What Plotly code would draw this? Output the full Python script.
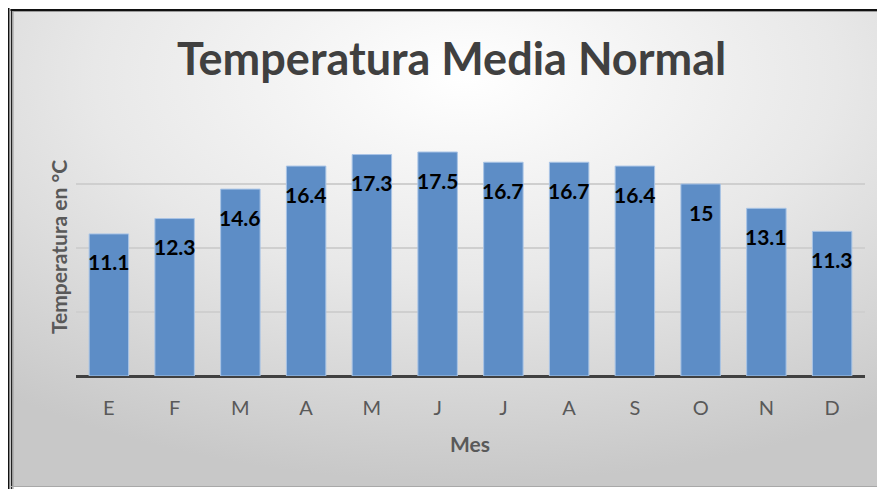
import base64
import plotly.graph_objects as go

months = ["E", "F", "M", "A", "M", "J", "J", "A", "S", "O", "N", "D"]
temps = [11.1, 12.3, 14.6, 16.4, 17.3, 17.5, 16.7, 16.7, 16.4, 15, 13.1, 11.3]
title_text = "Temperatura Media Normal"
x_title = "Mes"
y_title = "Temperatura en °C"

OFF = 8  # page body margin
W, H = 885 - OFF, 489 - OFF
L, R, T, B = 76 - OFF, 865 - OFF, 120 - OFF, 376 - OFF

def px(x):
    return (x - OFF - L) / (R - L)

def py(y):
    return (B - (y - OFF)) / (B - T)

svg = f'''<svg xmlns="http://www.w3.org/2000/svg" width="{W}" height="{H}" viewBox="0 0 {W} {H}">
<defs><radialGradient id="g" cx="0.52" cy="0.14" r="0.85" gradientUnits="objectBoundingBox">
<stop offset="0" stop-color="#ffffff"/><stop offset="0.5" stop-color="#e8e8e8"/><stop offset="1" stop-color="#c8c8c8"/></radialGradient></defs>
<rect x="0" y="0" width="{W}" height="{H}" fill="#ffffff"/>
<rect x="3" y="2" width="{W-3}" height="{H-4}" fill="url(#g)"/>
<line x1="0.75" y1="0" x2="0.75" y2="{H}" stroke="#111" stroke-width="1.5"/>
<line x1="3.5" y1="1" x2="3.5" y2="{H}" stroke="#222" stroke-width="1.5"/>
<line x1="5" y1="4" x2="5" y2="{H}" stroke="#9a9a9a" stroke-width="1"/>
<line x1="2.5" y1="2" x2="{W}" y2="2" stroke="#111" stroke-width="2"/>
<line x1="4" y1="3.5" x2="{W}" y2="3.5" stroke="#9a9a9a" stroke-width="1"/>
<line x1="3" y1="{H-2.5}" x2="{W}" y2="{H-2.5}" stroke="#a8a8a8" stroke-width="1"/>
</svg>'''
src = "data:image/svg+xml;base64," + base64.b64encode(svg.encode()).decode()

xs = list(range(len(months)))

fig = go.Figure()
fig.add_trace(go.Bar(
    x=xs, y=temps,
    marker=dict(color="#5d8dc6", line=dict(color="#a9c4e6", width=1)),
    width=0.6,
    hoverinfo="skip",
))

annotations = []
for xi, v in zip(xs, temps):
    annotations.append(dict(
        x=xi, y=v, xref="x", yref="y", text=f"<b>{v:g}</b>", showarrow=False,
        yshift=-28, font=dict(family="Lato", size=21, color="#000000"),
    ))
annotations.append(dict(
    x=px(451), y=py(58), xref="paper", yref="paper",
    text=f"<b>{title_text}</b>", showarrow=False,
    font=dict(family="Lato", size=45, color="#404040"),
    xanchor="center", yanchor="middle",
))
annotations.append(dict(
    x=px(470), y=py(443), xref="paper", yref="paper", text=f"<b>{x_title}</b>",
    showarrow=False, font=dict(family="Lato", size=21, color="#595959"),
    xanchor="center", yanchor="middle",
))
annotations.append(dict(
    x=px(58), y=py(247), xref="paper", yref="paper", text=f"<b>{y_title}</b>",
    showarrow=False, textangle=-90, font=dict(family="Lato", size=21, color="#595959"),
    xanchor="center", yanchor="middle",
))

fig.update_layout(
    width=W, height=H,
    margin=dict(l=L, r=W - R, t=T, b=H - B),
    paper_bgcolor="rgba(0,0,0,0)", plot_bgcolor="rgba(0,0,0,0)",
    showlegend=False,
    annotations=annotations,
    images=[dict(source=src, xref="paper", yref="paper", x=px(OFF), y=py(OFF),
                 sizex=W / (R - L), sizey=H / (B - T), sizing="stretch",
                 xanchor="left", yanchor="top", layer="below")],
    xaxis=dict(
        tickmode="array", tickvals=xs, ticktext=months, range=[-0.5, 11.5],
        showgrid=False, zeroline=False, showline=False,
        ticks="outside", ticklen=14, tickcolor="rgba(0,0,0,0)",
        tickfont=dict(family="Lato", size=20, color="#595959"),
    ),
    yaxis=dict(
        range=[0, 20], dtick=5, showticklabels=False, showgrid=True,
        gridcolor="#cfcfcf", gridwidth=1.5, zeroline=True, zerolinecolor="#404040",
        zerolinewidth=3, showline=False,
    ),
)
fig.write_html("out.html")
